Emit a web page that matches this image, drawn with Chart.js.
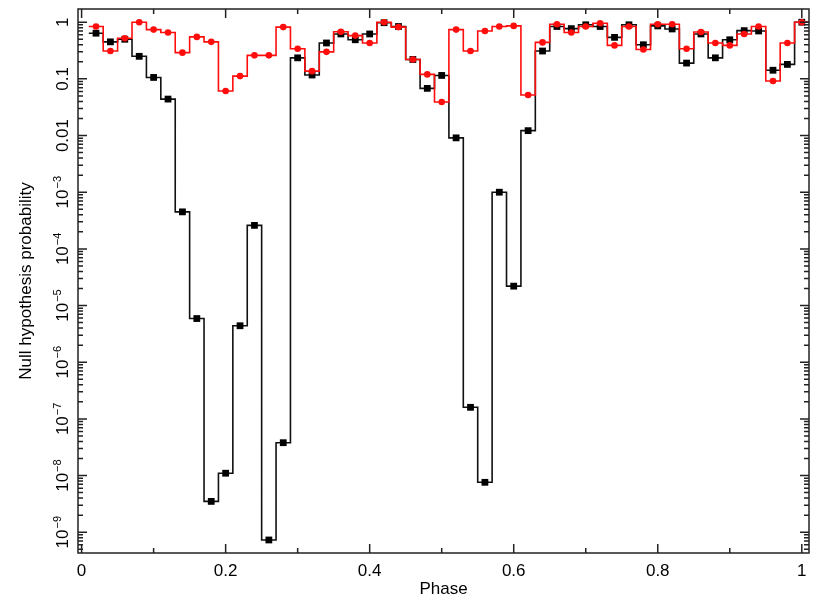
<!DOCTYPE html>
<html>
<head>
<meta charset="utf-8">
<script src="https://cdn.jsdelivr.net/npm/chart.js@4/dist/chart.umd.min.js"></script>
<style>
  body { margin: 0; background: #fff; }
  canvas { display: block; }
</style>
</head>
<body>
<canvas id="nullChart" width="817" height="608"></canvas>
<script>
// Phase bin centres (bin width 0.02)
const phase = [
  0.02, 0.04, 0.06, 0.08, 0.10, 0.12, 0.14, 0.16, 0.18, 0.20,
  0.22, 0.24, 0.26, 0.28, 0.30, 0.32, 0.34, 0.36, 0.38, 0.40,
  0.42, 0.44, 0.46, 0.48, 0.50, 0.52, 0.54, 0.56, 0.58, 0.60,
  0.62, 0.64, 0.66, 0.68, 0.70, 0.72, 0.74, 0.76, 0.78, 0.80,
  0.82, 0.84, 0.86, 0.88, 0.90, 0.92, 0.94, 0.96, 0.98, 1.00
]
const binWidth = 0.02

// Black squares
const probBlack = [
  0.64, 0.45, 0.50, 0.25, 0.106, 0.044, 4.5e-4, 5.9e-6, 3.5e-9, 1.1e-8,
  4.4e-6, 2.6e-4, 7.3e-10, 3.8e-8, 0.235, 0.117, 0.43, 0.62, 0.49, 0.62,
  0.98, 0.84, 0.22, 0.068, 0.115, 0.0091, 1.6e-7, 7.6e-9, 1.0e-3, 2.2e-5,
  0.0122, 0.31, 0.84, 0.77, 0.90, 0.84, 0.54, 0.90, 0.40, 0.86,
  0.76, 0.19, 0.62, 0.235, 0.49, 0.71, 0.70, 0.142, 0.18, 1.0
]

// Red circles
const probRed = [
  0.84, 0.31, 0.52, 1.0, 0.74, 0.66, 0.29, 0.55, 0.45, 0.061,
  0.112, 0.26, 0.26, 0.82, 0.34, 0.137, 0.30, 0.68, 0.58, 0.43,
  1.0, 0.82, 0.22, 0.12, 0.039, 0.74, 0.31, 0.70, 0.84, 0.86,
  0.052, 0.44, 0.92, 0.66, 0.84, 0.96, 0.39, 0.84, 0.33, 0.92,
  0.92, 0.34, 0.67, 0.43, 0.39, 0.62, 0.84, 0.092, 0.43, 1.0
]

const xTicks = [0, 0.2, 0.4, 0.6, 0.8, 1]
const xMinorTicks = [0.1, 0.3, 0.5, 0.7, 0.9]
const yDecades = [1, 0.1, 0.01, 1e-3, 1e-4, 1e-5, 1e-6, 1e-7, 1e-8, 1e-9, 1e-10]
const yLabels = ['1', '0.1', '0.01', '-3', '-4', '-5', '-6', '-7', '-8', '-9', '']

const fontFamily = "'Liberation Sans', Arial, Helvetica, sans-serif"

// histogram outline: each bin is a flat segment, neighbours joined by vertical lines
function stepPoints(values) {
  const pts = []
  phase.forEach((p, i) => {
    pts.push({ x: p - binWidth / 2, y: values[i] })
    pts.push({ x: p + binWidth / 2, y: values[i] })
  })
  return pts
}

function markerPoints(values) {
  return phase.map((p, i) => ({ x: p, y: values[i] }))
}

// frame, inward ticks on all sides, and the rotated y labels
const framePlugin = {
  id: 'frame',
  afterDraw(chart) {
    const { ctx, chartArea: a, scales } = chart
    const xs = scales.x
    const ys = scales.y
    ctx.save()
    ctx.strokeStyle = '#222'
    ctx.lineWidth = 1.5
    ctx.strokeRect(a.left, a.top, a.right - a.left, a.bottom - a.top)

    ctx.beginPath()
    const xTick = (v, len) => {
      const px = xs.getPixelForValue(v)
      ctx.moveTo(px, a.bottom); ctx.lineTo(px, a.bottom - len)
      ctx.moveTo(px, a.top); ctx.lineTo(px, a.top + len)
    }
    xTicks.forEach(v => xTick(v, 9))
    xMinorTicks.forEach(v => xTick(v, 5))

    const yTick = (v, len) => {
      const py = ys.getPixelForValue(v)
      if (py < a.top || py > a.bottom) return
      ctx.moveTo(a.left, py); ctx.lineTo(a.left + len, py)
      ctx.moveTo(a.right, py); ctx.lineTo(a.right - len, py)
    }
    yDecades.forEach(d => {
      yTick(d, 9)
      for (let m = 2; m <= 9; m++) yTick(d * m, 5)
    })
    ctx.stroke()

    // y tick labels, rotated like the axis title
    ctx.fillStyle = '#000'
    ctx.textBaseline = 'alphabetic'
    ctx.textAlign = 'left'
    yDecades.forEach((d, i) => {
      const label = yLabels[i]
      if (!label) return
      const py = ys.getPixelForValue(d)
      ctx.save()
      ctx.translate(a.left - 10, py)
      ctx.rotate(-Math.PI / 2)
      if (label.startsWith('-')) {
        const sup = '\u2212' + label.slice(1)
        ctx.font = '17px ' + fontFamily
        const w1 = ctx.measureText('10').width
        ctx.font = '11px ' + fontFamily
        const w2 = ctx.measureText(sup).width
        const start = -(w1 + w2 + 1) / 2
        ctx.font = '17px ' + fontFamily
        ctx.fillText('10', start, 0)
        ctx.font = '11px ' + fontFamily
        ctx.fillText(sup, start + w1 + 1, -7)
      } else {
        ctx.font = '17px ' + fontFamily
        const w = ctx.measureText(label).width
        ctx.fillText(label, -w / 2, 0)
      }
      ctx.restore()
    })
    ctx.restore()
  }
}

const ctx = document.getElementById('nullChart').getContext('2d')
new Chart(ctx, {
  type: 'scatter',
  data: {
    datasets: [
      {
        label: 'red points',
        data: markerPoints(probRed),
        pointStyle: 'circle',
        pointRadius: 3.3,
        backgroundColor: '#ff0d0d',
        borderColor: '#ff0d0d',
        borderWidth: 0,
        order: 0
      },
      {
        label: 'red steps',
        data: stepPoints(probRed),
        showLine: true,
        pointRadius: 0,
        borderColor: '#ff0d0d',
        borderWidth: 1.6,
        order: 1
      },
      {
        label: 'black points',
        data: markerPoints(probBlack),
        pointStyle: 'rect',
        pointRadius: 4.8,
        backgroundColor: '#000',
        borderColor: '#000',
        borderWidth: 0,
        order: 2
      },
      {
        label: 'black steps',
        data: stepPoints(probBlack),
        showLine: true,
        pointRadius: 0,
        borderColor: '#111',
        borderWidth: 1.6,
        order: 3
      }
    ]
  },
  options: {
    responsive: false,
    animation: false,
    layout: { padding: { top: 9, right: 8, left: 0, bottom: 0 } },
    scales: {
      x: {
        type: 'linear',
        min: -0.005,
        max: 1.01,
        grid: { display: false, drawTicks: false },
        border: { display: false },
        afterBuildTicks: scale => { scale.ticks = xTicks.map(v => ({ value: v })) },
        afterFit: scale => { scale.height = 55 },
        ticks: {
          color: '#000',
          padding: 8,
          maxRotation: 0,
          font: { family: fontFamily, size: 17 },
          callback: v => String(v)
        },
        title: {
          display: true,
          text: 'Phase',
          color: '#000',
          font: { family: fontFamily, size: 17 },
          padding: { top: 0, bottom: 8 }
        }
      },
      y: {
        type: 'logarithmic',
        min: 4.3e-10,
        max: 1.71,
        grid: { display: false, drawTicks: false },
        border: { display: false },
        ticks: { display: false },
        afterBuildTicks: scale => { scale.ticks = yDecades.map(v => ({ value: v })) },
        afterFit: scale => { scale.width = 78 },
        title: {
          display: true,
          text: 'Null hypothesis probability',
          color: '#000',
          font: { family: fontFamily, size: 17 },
          padding: { top: 16, bottom: 0 }
        }
      }
    },
    plugins: {
      legend: { display: false },
      tooltip: { enabled: false }
    }
  },
  plugins: [framePlugin]
})
</script>
</body>
</html>
